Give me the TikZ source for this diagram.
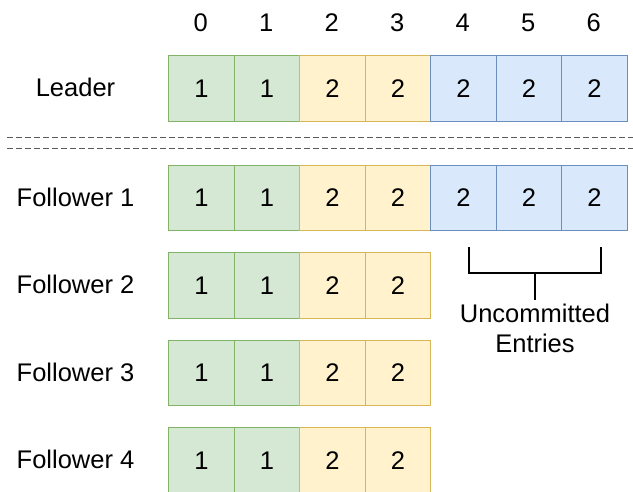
\documentclass[tikz,border=0pt]{standalone}
\usepackage{fontspec}
\setmainfont{Liberation Sans}
\definecolor{gfill}{HTML}{D5E8D4}
\definecolor{gdraw}{HTML}{82B366}
\definecolor{yfill}{HTML}{FFF2CC}
\definecolor{ydraw}{HTML}{D6B656}
\definecolor{bfill}{HTML}{DAE8FC}
\definecolor{bdraw}{HTML}{6C8EBF}
\definecolor{dashgray}{HTML}{5A5A5A}
\begin{document}
\begin{tikzpicture}[x=1pt,y=-1pt,
  txt/.style={font=\fontsize{25.5}{30}\selectfont, inner sep=0pt},
  cell/.style={txt, draw, line width=1.2pt, minimum width=65.5pt, minimum height=65.5pt, anchor=north west},
  gcell/.style={cell, fill=gfill, draw=gdraw},
  ycell/.style={cell, fill=yfill, draw=ydraw},
  bcell/.style={cell, fill=bfill, draw=bdraw},
  sepline/.style={draw=dashgray, line width=1pt, dash pattern=on 6pt off 3pt},
  brack/.style={draw=black, line width=1.5pt}
]
\useasboundingbox (0,0) rectangle (633,491);
% index labels
\foreach \c in {0,...,6} {
  \node[txt] (idx\c) at ({200.75+65.5*\c},23) {\c};
}
% rows
\foreach \r/\t/\n/\lab in {lead/55/7/Leader, f1/164.5/7/Follower 1, f2/252/4/Follower 2, f3/339.5/4/Follower 3, f4/427/4/Follower 4} {
  \node[txt] (lbl-\r) at (75.5,{\t+32.75}) {\lab};
  \foreach \c/\sty/\v in {0/gcell/1,1/gcell/1,2/ycell/2,3/ycell/2,4/bcell/2,5/bcell/2,6/bcell/2} {
    \ifnum\c<\n
      \node[\sty] (\r-c\c) at ({168+65.5*\c},\t) {\v};
    \fi
  }
}
% separator lines
\coordinate (s1a) at (7,137);
\coordinate (s1b) at (633,137);
\coordinate (s2a) at (7,148);
\coordinate (s2b) at (633,148);
\draw[sepline] (s1a) -- (s1b);
\draw[sepline] (s2a) -- (s2b);
% bracket
\coordinate (bl) at (469,247);
\coordinate (br) at (601,247);
\coordinate (bm) at (535,273);
\node[txt, align=center] (unc) at (535,328) {Uncommitted\\Entries};
\draw[brack] (bl) |- (bm) -| (br);
\draw[brack] (bm) -- (535,300);
\end{tikzpicture}
\end{document}
